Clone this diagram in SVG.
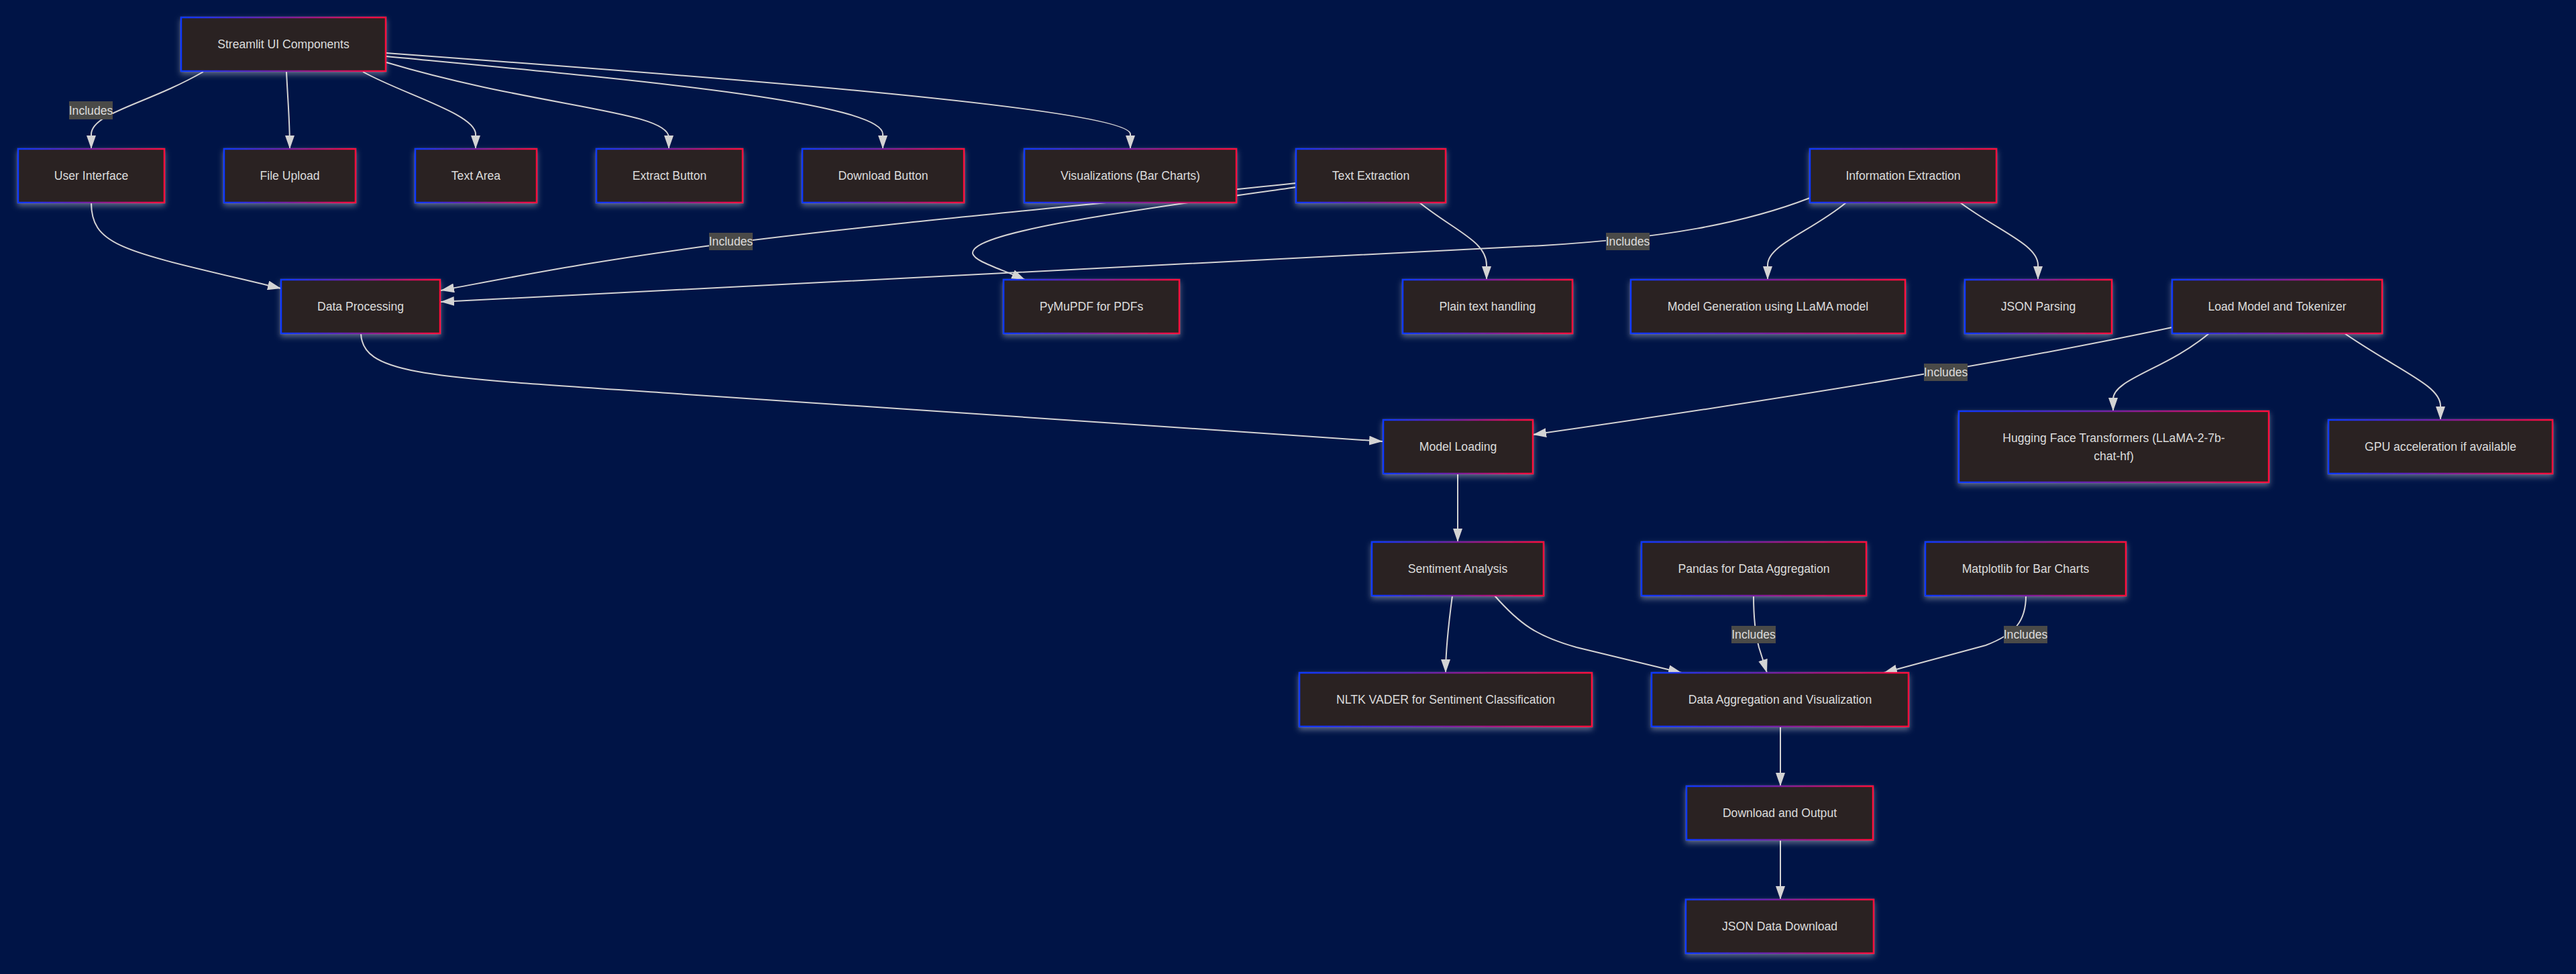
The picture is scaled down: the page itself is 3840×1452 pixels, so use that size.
<svg xmlns="http://www.w3.org/2000/svg" width="3840" height="1452" viewBox="0 0 3840 1452">
<defs>
<linearGradient id="bord" x1="0" y1="0" x2="1" y2="0">
<stop offset="0" stop-color="#0a38ff"/>
<stop offset="0.5" stop-color="#7a1fa0"/>
<stop offset="1" stop-color="#ff0a3c"/>
</linearGradient>
<filter id="glow" x="-10%" y="-20%" width="120%" height="150%">
<feDropShadow dx="0" dy="4" stdDeviation="4" flood-color="#ffffff" flood-opacity="0.35"/>
</filter>
<marker id="arr" viewBox="0 0 20 14" refX="20" refY="7" markerWidth="20" markerHeight="14" markerUnits="userSpaceOnUse" orient="auto">
<path d="M0,0 L20,7 L0,14 z" fill="#d3d3d3"/>
</marker>
</defs>
<style>
.node rect{fill:#2c2120;stroke:url(#bord);stroke-width:2.5;filter:url(#glow)}
.node text{fill:#dcdcdc;font-family:"Liberation Sans",Arial,sans-serif;font-size:17.6px;text-anchor:middle;dominant-baseline:central}
.edges path{fill:none;stroke:#d3d3d3;stroke-width:2;marker-end:url(#arr)}
.lbl rect{fill:#4a4a48}
.lbl text{fill:#dcdcdc;font-family:"Liberation Sans",Arial,sans-serif;font-size:17.6px;text-anchor:middle;dominant-baseline:central}
</style>
<rect width="3840" height="1452" fill="#001446"/>
<g id="connectors" class="edges">
<path d="M303,107 C220,155 137,168 136,200 L136,222"/>
<path d="M427,107 C429,150 432,180 432,222"/>
<path d="M541,107 C600,140 709,170 709,200 L709,222"/>
<path d="M576,93 C800,160 997,165 997,205 L997,222"/>
<path d="M576,84 C900,115 1316,150 1316,200 L1316,222"/>
<path d="M576,79 C1000,110 1685,160 1685,200 L1685,222"/>
<path d="M136,302 C136,370 190,375 419,430"/>
<path d="M1932,273 C1600,308 1300,335 1090,362 S760,414 657,433"/>
<path d="M1932,279 C1700,312 1445,345 1450,378 C1453,390 1490,400 1528,417"/>
<path d="M2698,295 C2600,333 2480,355 2300,366 L657,450"/>
<path d="M2116,302 C2170,345 2216,360 2216,395 L2216,417"/>
<path d="M2752,302 C2700,345 2635,365 2635,395 L2635,417"/>
<path d="M2922,302 C2980,345 3038,365 3038,395 L3038,417"/>
<path d="M3238,488 Q2900,560 2285,648"/>
<path d="M3293,497 C3230,550 3150,565 3150,595 L3150,613"/>
<path d="M3495,497 C3580,555 3638,575 3638,605 L3638,626"/>
<path d="M538,497 C540,560 640,562 1010,587 S1800,640 2061,658"/>
<path d="M2173,706 L2173,808"/>
<path d="M2165,888 C2158,940 2155,970 2155,1003"/>
<path d="M2228,888 C2265,930 2290,948 2350,965 L2507,1003"/>
<path d="M2614,888 C2614,930 2618,950 2622,965 L2634,1003"/>
<path d="M3020,888 C3020,925 3005,945 2960,962 L2808,1003"/>
<path d="M2654,1083 L2654,1172"/>
<path d="M2654,1252 L2654,1341"/>
</g>
<g id="edge-labels" class="lbl">
<g><rect x="103" y="151" width="65" height="27"/><text x="135.5" y="164.5">Includes</text></g>
<g><rect x="1057" y="347" width="65" height="26"/><text x="1089.5" y="360">Includes</text></g>
<g><rect x="2394" y="347" width="65" height="26"/><text x="2426.5" y="360">Includes</text></g>
<g><rect x="2868" y="542" width="65" height="26"/><text x="2900.5" y="555">Includes</text></g>
<g><rect x="2581" y="933" width="66" height="26"/><text x="2614" y="946">Includes</text></g>
<g><rect x="2987" y="933" width="65" height="26"/><text x="3019.5" y="946">Includes</text></g>
</g>
<g id="n-streamlit" class="node"><rect x="270" y="26" width="305" height="80"/><text x="422.5" y="66">Streamlit UI Components</text></g>
<g id="n-ui" class="node"><rect x="27" y="222" width="218" height="80"/><text x="136" y="262">User Interface</text></g>
<g id="n-fileupload" class="node"><rect x="334" y="222" width="196" height="80"/><text x="432" y="262">File Upload</text></g>
<g id="n-textarea" class="node"><rect x="619" y="222" width="181" height="80"/><text x="709.5" y="262">Text Area</text></g>
<g id="n-extract" class="node"><rect x="889" y="222" width="218" height="80"/><text x="998" y="262">Extract Button</text></g>
<g id="n-download" class="node"><rect x="1196" y="222" width="241" height="80"/><text x="1316.5" y="262">Download Button</text></g>
<g id="n-viz" class="node"><rect x="1527" y="222" width="316" height="80"/><text x="1685" y="262">Visualizations (Bar Charts)</text></g>
<g id="n-textext" class="node"><rect x="1932" y="222" width="223" height="80"/><text x="2043.5" y="262">Text Extraction</text></g>
<g id="n-infoext" class="node"><rect x="2698" y="222" width="278" height="80"/><text x="2837" y="262">Information Extraction</text></g>
<g id="n-dataproc" class="node"><rect x="419" y="417" width="237" height="80"/><text x="537.5" y="457">Data Processing</text></g>
<g id="n-pymupdf" class="node"><rect x="1496" y="417" width="262" height="80"/><text x="1627" y="457">PyMuPDF for PDFs</text></g>
<g id="n-plaintext" class="node"><rect x="2091" y="417" width="253" height="80"/><text x="2217.5" y="457">Plain text handling</text></g>
<g id="n-modelgen" class="node"><rect x="2431" y="417" width="409" height="80"/><text x="2635.5" y="457">Model Generation using LLaMA model</text></g>
<g id="n-json" class="node"><rect x="2929" y="417" width="219" height="80"/><text x="3038.5" y="457">JSON Parsing</text></g>
<g id="n-loadmodel" class="node"><rect x="3238" y="417" width="313" height="80"/><text x="3394.5" y="457">Load Model and Tokenizer</text></g>
<g id="n-modelloading" class="node"><rect x="2062" y="626" width="223" height="80"/><text x="2173.5" y="666">Model Loading</text></g>
<g id="n-hf" class="node"><rect x="2920" y="613" width="462" height="106"/><text x="3151" y="653">Hugging Face Transformers (LLaMA-2-7b-</text><text x="3151" y="680">chat-hf)</text></g>
<g id="n-gpu" class="node"><rect x="3471" y="626" width="334" height="80"/><text x="3638" y="666">GPU acceleration if available</text></g>
<g id="n-sentiment" class="node"><rect x="2045" y="808" width="256" height="80"/><text x="2173" y="848">Sentiment Analysis</text></g>
<g id="n-pandas" class="node"><rect x="2447" y="808" width="335" height="80"/><text x="2614.5" y="848">Pandas for Data Aggregation</text></g>
<g id="n-matplotlib" class="node"><rect x="2870" y="808" width="299" height="80"/><text x="3019.5" y="848">Matplotlib for Bar Charts</text></g>
<g id="n-nltk" class="node"><rect x="1937" y="1003" width="436" height="80"/><text x="2155" y="1043">NLTK VADER for Sentiment Classification</text></g>
<g id="n-dataagg" class="node"><rect x="2462" y="1003" width="383" height="80"/><text x="2653.5" y="1043">Data Aggregation and Visualization</text></g>
<g id="n-downloadout" class="node"><rect x="2514" y="1172" width="278" height="80"/><text x="2653" y="1212">Download and Output</text></g>
<g id="n-jsondl" class="node"><rect x="2513" y="1341" width="280" height="80"/><text x="2653" y="1381">JSON Data Download</text></g>
</svg>
